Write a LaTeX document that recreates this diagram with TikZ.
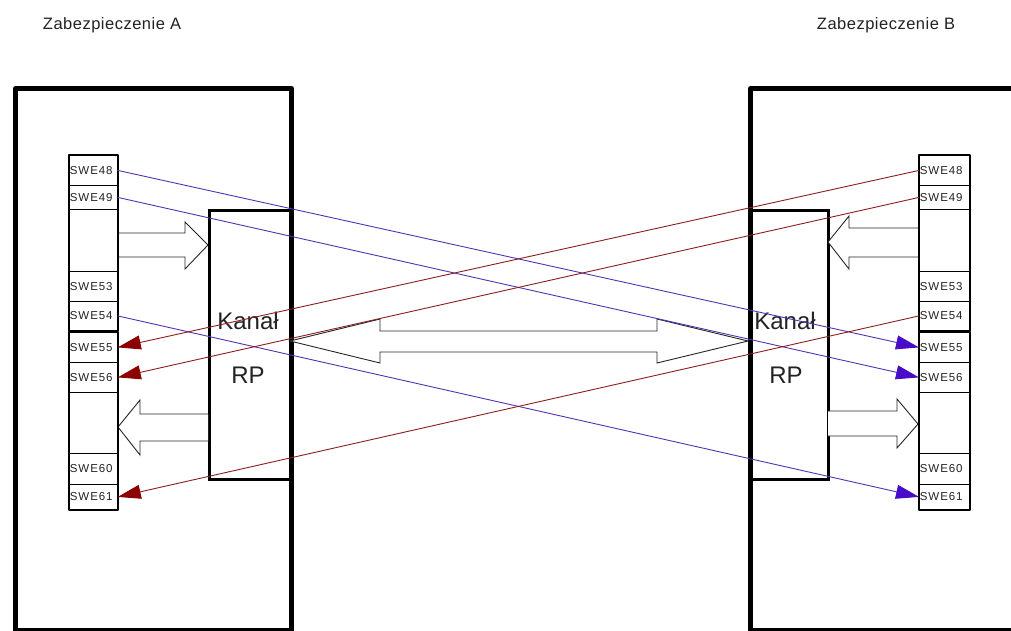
\documentclass[tikz,border=0pt]{standalone}
\usepackage{fontspec}
\setmainfont{Liberation Sans}
\newfontfamily\cellfont{Liberation Sans}[LetterSpace=8]
\newfontfamily\titlefont{Liberation Sans}[LetterSpace=3]
\usetikzlibrary{arrows.meta}
\definecolor{txt}{RGB}{35,35,35}
\definecolor{purpline}{RGB}{85,50,180}
\definecolor{purphead}{RGB}{72,12,200}
\definecolor{redl}{RGB}{140,30,30}
\definecolor{redhead}{RGB}{140,0,0}
\tikzset{
  bigbox/.style={draw=black, line width=5pt, line join=round, anchor=north west, inner sep=0pt},
  kanbox/.style={draw=black, line width=2.5pt, anchor=north west, inner sep=0pt},
  cellbox/.style={draw=black, line width=0.8pt, anchor=north west, inner sep=0pt,
    minimum width=48pt, text width=47pt, align=left,
    font=\cellfont\fontsize{11.5}{11.5}\selectfont, text=txt},
  cellboxr/.style={cellbox, minimum width=50pt, text width=49pt},
  stripframe/.style={draw=black, line width=2.5pt, line join=round},
  blockarrow/.style={draw=black!85, line width=0.9pt, fill=white, line join=miter},
  titletext/.style={font=\titlefont\fontsize{16.5}{16.5}\selectfont, text=txt, inner sep=0pt},
  kantext/.style={font=\fontsize{24}{24}\selectfont, text=txt, inner sep=0pt},
  purpconn/.style={draw=purpline, line width=0.9pt, -{Triangle[length=23pt,width=14pt,color=purphead]}},
  redconn/.style={draw=redl, line width=0.9pt, -{Triangle[length=23pt,width=14pt,color=redhead]}}
}
\begin{document}
\begin{tikzpicture}[x=1pt,y=-1pt]
\useasboundingbox (0,0) rectangle (1011,630);
\clip (0,0) rectangle (1011,630);
\fill[white] (0,0) rectangle (1011,630);

% titles
\node[titletext] (titleA) at (112,25) {Zabezpieczenie A};
\node[titletext] (titleB) at (886,25) {Zabezpieczenie B};

% big boxes
\node[bigbox, minimum width=276pt, minimum height=542pt] (boxA) at (13,86) {};
\node[bigbox, minimum width=282pt, minimum height=542pt] (boxB) at (748,86) {};

% channel boxes
\node[kanbox, minimum width=81pt, minimum height=269pt] (kanA) at (208,209) {};
\node[kanbox, minimum width=79pt, minimum height=269pt] (kanB) at (748,209) {};
\node[kantext] (kanAt) at (248,321) {Kanał};
\node[kantext] (rpA) at (248,375) {RP};
\node[kantext] (kanBt) at (785,321) {Kanał};
\node[kantext] (rpB) at (786,375) {RP};

% block arrows, side A
\draw[blockarrow] (118,233) -- (185,233) -- (185,222) -- (208,245) -- (185,269) -- (185,257) -- (118,257);
\draw[blockarrow] (208,414) -- (140,414) -- (140,400) -- (118,427) -- (140,455) -- (140,441) -- (208,441);
% block arrows, side B
\draw[blockarrow] (918,228) -- (849,228) -- (849,216) -- (828,242) -- (849,269) -- (849,257) -- (918,257);
\draw[blockarrow] (828,411) -- (897,411) -- (897,399) -- (918,424) -- (897,448) -- (897,436) -- (828,436);
% double arrow between channels
\draw[blockarrow] (290,341) -- (380,319) -- (380,331) -- (657,331) -- (657,319) -- (748,341)
  -- (657,363) -- (657,352) -- (380,352) -- (380,363) -- cycle;

% terminal strip A
\node[cellbox, minimum height=30pt] (a48) at (69,155) {SWE48};
\node[cellbox, minimum height=24pt] (a49) at (69,185) {SWE49};
\node[cellbox, minimum height=62pt] (a50) at (69,209) {};
\node[cellbox, minimum height=30pt] (a53) at (69,271) {SWE53};
\node[cellbox, minimum height=29pt] (a54) at (69,301) {SWE54};
\node[cellbox, minimum height=30pt] (a55) at (69,332) {SWE55};
\node[cellbox, minimum height=30pt] (a56) at (69,362) {SWE56};
\node[cellbox, minimum height=61pt] (a57) at (69,392) {};
\node[cellbox, minimum height=31pt] (a60) at (69,453) {SWE60};
\node[cellbox, minimum height=25pt] (a61) at (69,484) {SWE61};
\draw[stripframe] (a48.north west) rectangle (a54.south east);
\draw[stripframe] (a55.north west) rectangle (a61.south east);

% terminal strip B
\node[cellboxr, minimum height=30pt] (b48) at (919,155) {SWE48};
\node[cellboxr, minimum height=24pt] (b49) at (919,185) {SWE49};
\node[cellboxr, minimum height=62pt] (b50) at (919,209) {};
\node[cellboxr, minimum height=30pt] (b53) at (919,271) {SWE53};
\node[cellboxr, minimum height=29pt] (b54) at (919,301) {SWE54};
\node[cellboxr, minimum height=30pt] (b55) at (919,332) {SWE55};
\node[cellboxr, minimum height=30pt] (b56) at (919,362) {SWE56};
\node[cellboxr, minimum height=61pt] (b57) at (919,392) {};
\node[cellboxr, minimum height=31pt] (b60) at (919,453) {SWE60};
\node[cellboxr, minimum height=25pt] (b61) at (919,484) {SWE61};
\draw[stripframe] (b48.north west) rectangle (b54.south east);
\draw[stripframe] (b55.north west) rectangle (b61.south east);

% signal connectors
\draw[purpconn] (a48.east) -- (b55.west);
\draw[purpconn] (a49.east) -- (b56.west);
\draw[purpconn] (a54.east) -- (b61.west);
\draw[redconn] (b48.west) -- (a55.east);
\draw[redconn] (b49.west) -- (a56.east);
\draw[redconn] (b54.west) -- (a61.east);
\end{tikzpicture}
\end{document}
